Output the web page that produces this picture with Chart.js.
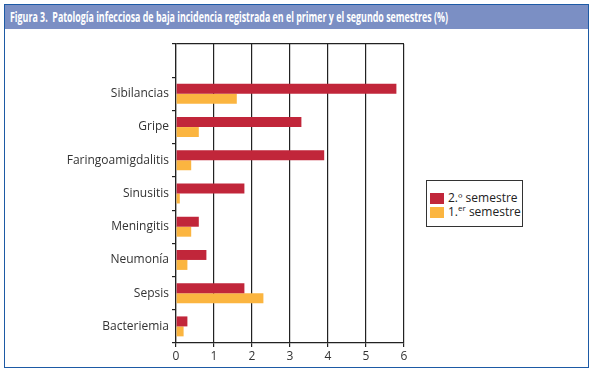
<!DOCTYPE html>
<html>
<head>
<meta charset="utf-8">
<script src="https://cdn.jsdelivr.net/npm/chart.js@4"></script>
<style>
  html, body { margin: 0; padding: 0; background: #fff; }
  #wrap { position: relative; width: 593px; height: 372px; overflow: hidden; background: #fff; }
  #frame { position: absolute; left: 4px; top: 4px; width: 583px; height: 362px; border: 1px solid #1d5aa5; }
  #title { position: absolute; left: 5px; top: 5px; width: 583px; height: 24px; background: #7b8fc4; overflow: hidden; }
  #titleText { position: absolute; left: 5px; top: 0; display: inline-block; transform-origin: 0 50%;
           color: #fff; font-family: "Open Sans", sans-serif;
           font-weight: bold; font-size: 13.5px; line-height: 24px; white-space: nowrap; }
  #chartBox { position: absolute; left: 0; top: 0; width: 593px; height: 372px; }
  #legend { position: absolute; left: 426px; top: 180px; width: 95px; height: 45px; border: 1px solid #333;
            background: #fff; font-family: "Open Sans", sans-serif; font-size: 12px; color: #222; }
  .item { position: absolute; left: 3px; height: 12px; line-height: 12px; white-space: nowrap; }
  .sw { display: inline-block; width: 14px; height: 11px; vertical-align: top; margin-right: 4px; margin-top: 1px; }
  sup { font-size: 8px; line-height: 0; vertical-align: 5px; }
</style>
</head>
<body>
<div id="wrap">
  <div id="frame"></div>
  <div id="title"><span id="titleText">Figura 3.&nbsp; Patología infecciosa de baja incidencia registrada en el primer y el segundo semestres (%)</span></div>
  <div id="chartBox"><canvas id="c"></canvas></div>
  <div id="legend">
    <div class="item" style="top:11px"><span class="sw" style="background:#c1263a"></span>2.º semestre</div>
    <div class="item" style="top:25px"><span class="sw" style="background:#fbb540"></span>1.<sup>er</sup> semestre</div>
  </div>
</div>
<script>
const categories = ["Sibilancias", "Gripe", "Faringoamigdalitis", "Sinusitis", "Meningitis", "Neumonía", "Sepsis", "Bacteriemia"];
const segundoSemestre = [5.8, 3.3, 3.9, 1.8, 0.6, 0.8, 1.8, 0.3];
const primerSemestre = [1.6, 0.6, 0.4, 0.1, 0.4, 0.3, 2.3, 0.2];
const xTicks = [0, 1, 2, 3, 4, 5, 6];

// fit the condensed-looking title to its width in the reference
(function () {
  const t = document.getElementById("titleText");
  const w = t.getBoundingClientRect().width;
  if (w > 0) t.style.transform = "scaleX(" + (438 / w) + ")";
})();

const labels = [""].concat(categories);
const fontFamily = '"Open Sans", sans-serif';

new Chart(document.getElementById("c"), {
  type: "bar",
  data: {
    labels: labels,
    datasets: [
      { label: "2.º semestre", data: [null].concat(segundoSemestre), backgroundColor: "#c1263a",
        categoryPercentage: 0.6, barPercentage: 1.0 },
      { label: "1.er semestre", data: [null].concat(primerSemestre), backgroundColor: "#fbb540",
        categoryPercentage: 0.6, barPercentage: 1.0 }
    ]
  },
  options: {
    indexAxis: "y",
    responsive: true,
    maintainAspectRatio: false,
    animation: false,
    layout: { padding: { left: 0, right: 189, top: 44, bottom: 0 } },
    plugins: { legend: { display: false }, title: { display: false }, tooltip: { enabled: false } },
    scales: {
      x: {
        min: xTicks[0], max: xTicks[xTicks.length - 1],
        afterBuildTicks: (s) => { s.ticks = xTicks.map(v => ({ value: v })); },
        afterFit: (s) => { s.height = 29; },
        border: { color: "#222", width: 1.2 },
        grid: { color: "#222", lineWidth: 1.2, tickLength: 4, tickColor: "#222" },
        ticks: { color: "#333", font: { family: fontFamily, size: 12 }, padding: 2 }
      },
      y: {
        afterFit: (s) => { s.width = 176; },
        border: { color: "#222", width: 1.2 },
        grid: { offset: true, lineWidth: 1.2, tickLength: 4, tickColor: "#222",
                color: (ctx) => ctx.index === 0 ? "#222" : "rgba(0,0,0,0)" },
        ticks: { color: "#333", font: { family: fontFamily, size: 12 }, padding: 3 }
      }
    }
  }
});
</script>
</body>
</html>
